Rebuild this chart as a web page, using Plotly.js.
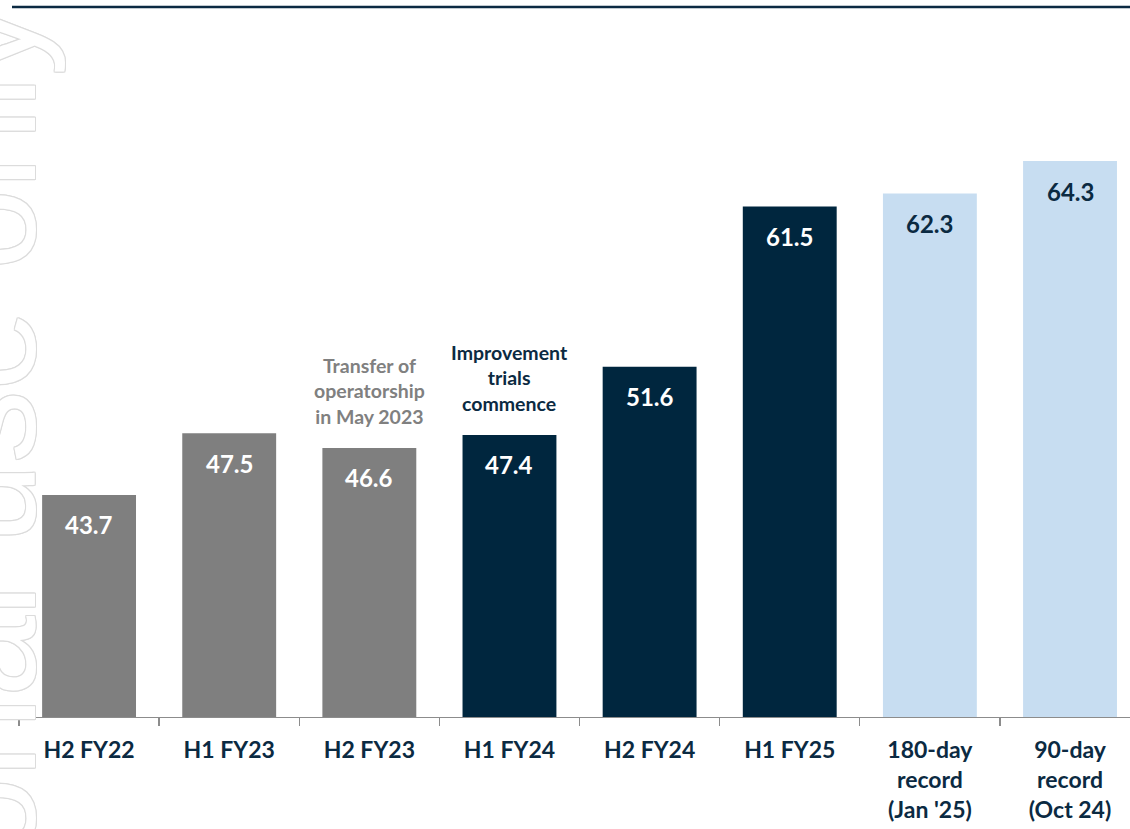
<!DOCTYPE html>
<html>
<head>
<meta charset="utf-8">
<script src="https://cdn.plot.ly/plotly-3.0.1.min.js"></script>
<style>
  html, body { margin: 0; padding: 0; background: #ffffff; }
  #chart { width: 1130px; height: 829px; }
</style>
</head>
<body>
<div id="chart"></div>
<script>
// ---- data ----
const categories = [
  "H2 FY22", "H1 FY23", "H2 FY23", "H1 FY24", "H2 FY24", "H1 FY25",
  "180-day<br>record<br>(Jan '25)", "90-day<br>record<br>(Oct 24)"
];
const values = [43.7, 47.5, 46.6, 47.4, 51.6, 61.5, 62.3, 64.3];
const valueLabels = ["43.7", "47.5", "46.6", "47.4", "51.6", "61.5", "62.3", "64.3"];
const groups = ["past", "past", "past", "current", "current", "current", "record", "record"];
const noteCategories = ["H2 FY23", "H1 FY24"];
const noteTexts = ["Transfer of<br>operatorship<br>in May 2023", "Improvement<br>trials<br>commence"];
const noteGroups = ["past", "current"];
const watermarkText = "For personal use only";

// ---- styles ----
const barColors = { past: "#7f7f7f", current: "#00263e", record: "#c7ddf1" };
const labelColors = { past: "#ffffff", current: "#ffffff", record: "#0b2a42" };
const noteColors = { past: "#808080", current: "#0b2a42" };
const navy = "#0b2a42";
const FONT = "Lato, 'Open Sans', sans-serif";

const trace = {
  type: "bar",
  x: categories,
  y: values,
  marker: { color: groups.map(g => barColors[g]), line: { width: 0 } },
  width: 0.67,
  hoverinfo: "skip",
  showlegend: false
};

const annotations = [];
values.forEach((v, i) => {
  annotations.push({
    x: categories[i], y: v, xref: "x", yref: "y",
    text: valueLabels[i], showarrow: false,
    yanchor: "middle", yshift: -30,
    font: { family: FONT, size: 24, weight: 700, color: labelColors[groups[i]] }
  });
});
noteTexts.forEach((t, i) => {
  const idx = categories.indexOf(noteCategories[i]);
  annotations.push({
    x: noteCategories[i], y: values[idx], xref: "x", yref: "y",
    text: t, showarrow: false,
    yanchor: "bottom", yshift: 18,
    font: { family: FONT, size: 19.5, weight: 700, color: noteColors[noteGroups[i]] }
  });
});
// watermark
annotations.push({
  xref: "paper", yref: "paper", x: 0.044, y: 1.009,
  xanchor: "right", yanchor: "top",
  text: watermarkText, showarrow: false, textangle: -90,
  font: {
    family: "'Liberation Sans', Arial, sans-serif", size: 145, color: "#ffffff",
    shadow: "1.2px 0 0 #dcdcdc, -1.2px 0 0 #dcdcdc, 0 1.2px 0 #dcdcdc, 0 -1.2px 0 #dcdcdc, 1px 1px 0 #dcdcdc, -1px -1px 0 #dcdcdc, 1px -1px 0 #dcdcdc, -1px 1px 0 #dcdcdc"
  }
});

const layout = {
  width: 1130, height: 829,
  margin: { l: 19, r: 0, t: 7, b: 112, pad: 0 },
  paper_bgcolor: "#ffffff", plot_bgcolor: "#ffffff",
  bargap: 0.33,
  showlegend: false,
  xaxis: {
    type: "category",
    range: [-0.5, 7.428],
    tickson: "boundaries",
    ticks: "outside", ticklen: 8, tickwidth: 1.3, tickcolor: "#8c8c8c",
    showline: true, linecolor: "#8c8c8c", linewidth: 1.3,
    showgrid: false, zeroline: false,
    tickfont: { family: FONT, size: 23, weight: 700, color: navy },
    ticklabelstandoff: 12,
    fixedrange: true
  },
  yaxis: {
    range: [30, 30 + 710 / 16.21],
    visible: false, showgrid: false, zeroline: false, fixedrange: true
  },
  shapes: [{
    type: "line", xref: "paper", yref: "paper",
    x0: -0.0063, x1: 1, y0: 1.0, y1: 1.0,
    line: { color: navy, width: 2.5 }
  }],
  annotations: annotations
};

Plotly.newPlot("chart", [trace], layout, { displayModeBar: false, staticPlot: true });
</script>
</body>
</html>
